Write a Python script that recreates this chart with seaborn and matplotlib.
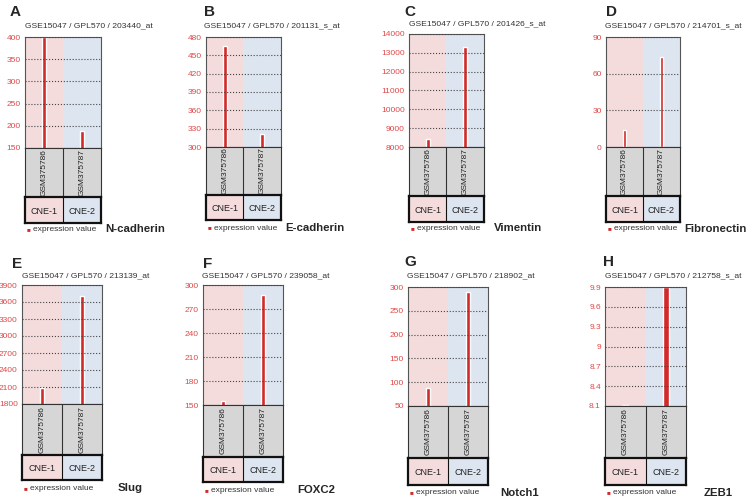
import numpy as np
import seaborn as sns
import matplotlib.pyplot as plt

sns.set_style("white")
plt.rcParams['font.family'] = ['Liberation Sans', 'DejaVu Sans']

# data
letters = ["A", "B", "C", "D", "E", "F", "G", "H"]
genes = ["N-cadherin", "E-cadherin", "Vimentin", "Fibronectin", "Slug", "FOXC2", "Notch1", "ZEB1"]
probes = ["203440_at", "201131_s_at", "201426_s_at", "214701_s_at",
          "213139_at", "239058_at", "218902_at", "212758_s_at"]
groups = ["CNE-1", "CNE-2"]
samples = ["GSM375786", "GSM375787"]
cne1_vals = [400, 465, 8450, 14, 2080, 155, 88, 8.12]
cne2_vals = [188, 322, 13300, 74, 3700, 288, 290, 9.9]
y_lo = [150, 300, 8000, 0, 1800, 150, 50, 8.1]
y_hi = [400, 480, 14000, 90, 3900, 300, 300, 9.9]
y_step = [50, 30, 1000, 30, 300, 30, 50, 0.3]

# panel layout in pixels: plot x0, x1, top, bottom, gray bottom, group bottom,
# letter (x, y), subtitle (x, y), legend y, gene label (x, y)
layout = [
    (25, 101, 37, 148, 197, 223, (10, 12), (25, 26), 230, (105, 229)),
    (206, 281, 37, 147, 195, 220, (204, 12), (204, 26), 228, (285, 228)),
    (409, 484, 34, 147, 196, 222, (404, 12), (409, 24), 229, (494, 228)),
    (606, 680, 37, 147, 196, 222, (606, 12), (605, 26), 229, (684, 229)),
    (22, 102, 285, 404, 455, 480, (12, 264), (22, 276), 489, (118, 488)),
    (203, 283, 285, 405, 457, 482, (203, 264), (202, 276), 491, (297, 490)),
    (408, 488, 287, 406, 458, 485, (404, 262), (407, 276), 493, (500, 493)),
    (605, 686, 287, 406, 458, 485, (603, 262), (605, 276), 493, (704, 493)),
]

W, H = 753, 501
pink = "#f4dcdc"
blue = "#dde5f0"
red = "#d22a2a"
tick_red = "#e04848"

fig = plt.figure(figsize=(W / 100, H / 100), dpi=100)


def fx(x):
    return x / W


def fy(y):
    return 1 - y / H


for i in range(8):
    x0, x1, top, bot, gbot, cbot, let, sub, leg_y, gpos = layout[i]
    wid = fx(x1) - fx(x0)

    # main plot
    ax = fig.add_axes([fx(x0), fy(bot), wid, (bot - top) / H])
    ax.axvspan(-0.5, 0.5, color=pink, zorder=0, lw=0)
    ax.axvspan(0.5, 1.5, color=blue, zorder=0, lw=0)
    bw = 0.14 if i == 7 else 0.1
    sns.barplot(x=groups, y=[cne1_vals[i], cne2_vals[i]], ax=ax, color=red,
                saturation=1, width=bw, zorder=2)
    ax.set_xlim(-0.5, 1.5)
    ax.set_ylim(y_lo[i], y_hi[i])
    ticks = np.arange(y_lo[i], y_hi[i] + y_step[i] / 2, y_step[i])
    ax.set_yticks(ticks)
    ax.set_yticklabels(['{:g}'.format(round(t, 2)) for t in ticks])
    ax.tick_params(axis='y', labelcolor=tick_red, labelsize=6, length=0, pad=3)
    ax.tick_params(axis='x', length=0, labelbottom=False)
    ax.grid(axis='y', ls=':', color='#444444', lw=0.8, zorder=1)
    ax.set_axisbelow(False)
    ax.set_xlabel('')
    ax.set_ylabel('')
    for s in ax.spines.values():
        s.set_color('#555555')
        s.set_linewidth(0.8)

    # sample name box
    ax2 = fig.add_axes([fx(x0), fy(gbot), wid, (gbot - bot) / H])
    ax2.set_xlim(-0.5, 1.5)
    ax2.set_ylim(0, 1)
    ax2.set_facecolor('#d6d6d6')
    ax2.axvline(0.5, color='#333333', lw=0.8)
    for k, sname in enumerate(samples):
        ax2.text(k, 0.5, sname, rotation=90, ha='center', va='center',
                 fontsize=6, color='#222222')
    ax2.set_xticks([])
    ax2.set_yticks([])
    for s in ax2.spines.values():
        s.set_color('#333333')
        s.set_linewidth(0.8)

    # group box
    ax3 = fig.add_axes([fx(x0), fy(cbot), wid, (cbot - gbot) / H])
    ax3.set_xlim(-0.5, 1.5)
    ax3.set_ylim(0, 1)
    ax3.axvspan(-0.5, 0.5, color=pink, lw=0)
    ax3.axvspan(0.5, 1.5, color=blue, lw=0)
    ax3.axvline(0.5, color='#111111', lw=0.8)
    for k, g in enumerate(groups):
        ax3.text(k, 0.45, g, ha='center', va='center', fontsize=6.5, color='#222222')
    ax3.set_xticks([])
    ax3.set_yticks([])
    for s in ax3.spines.values():
        s.set_color('#111111')
        s.set_linewidth(1.6)

    # panel letter, subtitle, legend, gene name
    fig.text(fx(let[0]), fy(let[1]), letters[i], fontsize=11, fontweight='bold',
             va='center', ha='left')
    fig.text(fx(sub[0]), fy(sub[1]), "GSE15047 / GPL570 / " + probes[i],
             fontsize=6.1, color='#333333', va='center', ha='left')
    fig.text(fx(x0 + 2), fy(leg_y), "\u25a0", fontsize=4.5, color=red,
             va='center', ha='left')
    fig.text(fx(x0 + 8), fy(leg_y), "expression value", fontsize=6,
             color='#333333', va='center', ha='left')
    fig.text(fx(gpos[0]), fy(gpos[1]), genes[i], fontsize=8.2, fontweight='bold',
             va='center', ha='left')

fig.savefig("out.png", dpi=100)
